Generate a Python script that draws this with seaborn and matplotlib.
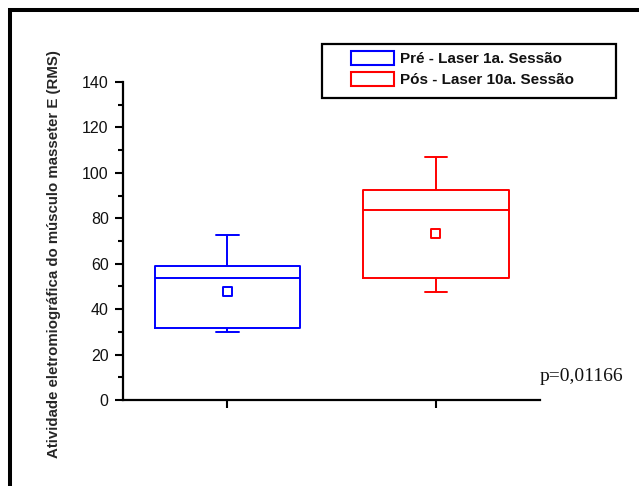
import numpy as np
import pandas as pd
import matplotlib
matplotlib.use("Agg")
import matplotlib.pyplot as plt
from matplotlib.patches import Patch, Rectangle
from matplotlib.lines import Line2D
from matplotlib.ticker import MultipleLocator
import seaborn as sns

# ---- data ----
groups = ["Pré - Laser 1a. Sessão", "Pós - Laser 10a. Sessão"]
whisker_low = [30.1, 47.6]
q1 = [31.9, 53.9]
median = [53.8, 83.7]
q3 = [59.1, 92.5]
whisker_high = [72.5, 106.8]
means = [47.6, 73.2]
colors = ["#0000FF", "#FF0000"]
y_ticks = [0, 20, 40, 60, 80, 100, 120, 140]
y_label = "Atividade eletromiográfica do músculo masseter E (RMS)"
p_text = "p=0,01166"

# five-number summary per group -> long table for seaborn boxplot
rows = []
for g, lo, a, m, b, hi in zip(groups, whisker_low, q1, median, q3, whisker_high):
    for v in (lo, a, m, b, hi):
        rows.append({"group": g, "value": v})
df = pd.DataFrame(rows)
df_mean = pd.DataFrame({"pos": np.arange(len(groups)), "group": groups, "mean": means})

sns.set_style("ticks")
plt.rcParams["font.family"] = ["Liberation Sans", "DejaVu Sans"]

fig = plt.figure(figsize=(6.39, 4.86), dpi=100)
ax = fig.add_axes([123.3 / 639, 86 / 486, (540 - 123.3) / 639, 318 / 486])

pal = dict(zip(groups, colors))
sns.boxplot(data=df, x="group", y="value", hue="group", palette=pal,
            fill=False, width=0.70, linewidth=1.4, whis=(0, 100),
            showfliers=False, legend=False, capwidths=0.106, ax=ax)

sns.scatterplot(data=df_mean, x="pos", y="mean", hue="group", palette=pal,
                marker="s", s=40, linewidth=1.4, legend=False, ax=ax, zorder=5)
pts = ax.collections[-1]
pts.set_edgecolors(pts.get_facecolors())
pts.set_facecolors("white")

ax.set_xlim(-0.5, 1.5)
ax.set_ylim(0, 140)
ax.set_yticks(y_ticks)
ax.yaxis.set_minor_locator(MultipleLocator(10))
ax.set_xticks(np.arange(len(groups)))
ax.tick_params(axis="x", labelbottom=False, length=6, width=1.5, color="black")
ax.tick_params(axis="y", which="major", length=6, width=1.5, labelsize=11.5,
               pad=4.5, color="black", labelcolor="#111111")
ax.tick_params(axis="y", which="minor", length=3.3, width=1.5, color="black")
ax.set_xlabel("")
for s in ("top", "right"):
    ax.spines[s].set_visible(False)
for s in ("left", "bottom"):
    ax.spines[s].set_linewidth(1.6)
    ax.spines[s].set_color("black")

ax.set_ylabel(y_label, fontsize=10.8, fontweight="bold", va="center")
ax.yaxis.set_label_coords((54.5 - 123.3) / (540 - 123.3), (400 - 254) / 318)

# legend (frameless, with a separate frame rectangle)
fs = 11
fs_px = fs * 100 / 72
handles = [Patch(facecolor="none", edgecolor=c, linewidth=1.5) for c in colors]
leg = fig.legend(handles, groups, loc="upper left",
                 bbox_to_anchor=(351 / 639, 1 - 51 / 486),
                 frameon=False, borderpad=0, borderaxespad=0,
                 handlelength=43 / fs_px, handleheight=16 / fs_px,
                 handletextpad=6 / fs_px, labelspacing=5.5 / fs_px,
                 prop={"size": fs, "weight": "bold"})
for t in leg.get_texts():
    t.set_color("#111111")
fig.add_artist(Rectangle((322 / 639, 1 - 98 / 486), 294 / 639, 54 / 486,
                         transform=fig.transFigure, fill=False,
                         edgecolor="black", linewidth=1.6))

fig.text(540 / 639, 1 - 380.7 / 486, p_text, fontsize=14, va="baseline",
         ha="left", family=["Liberation Serif", "DejaVu Serif"], color="#111111")

# outer frame (top and left edges)
fx, fy = 10.3 / 639, 1 - 10.3 / 486
fig.add_artist(Line2D([1.05, fx, fx], [fy, fy, -0.05], transform=fig.transFigure,
                      color="black", linewidth=2.9, solid_joinstyle="miter"))

fig.savefig("out.png", dpi=100)
